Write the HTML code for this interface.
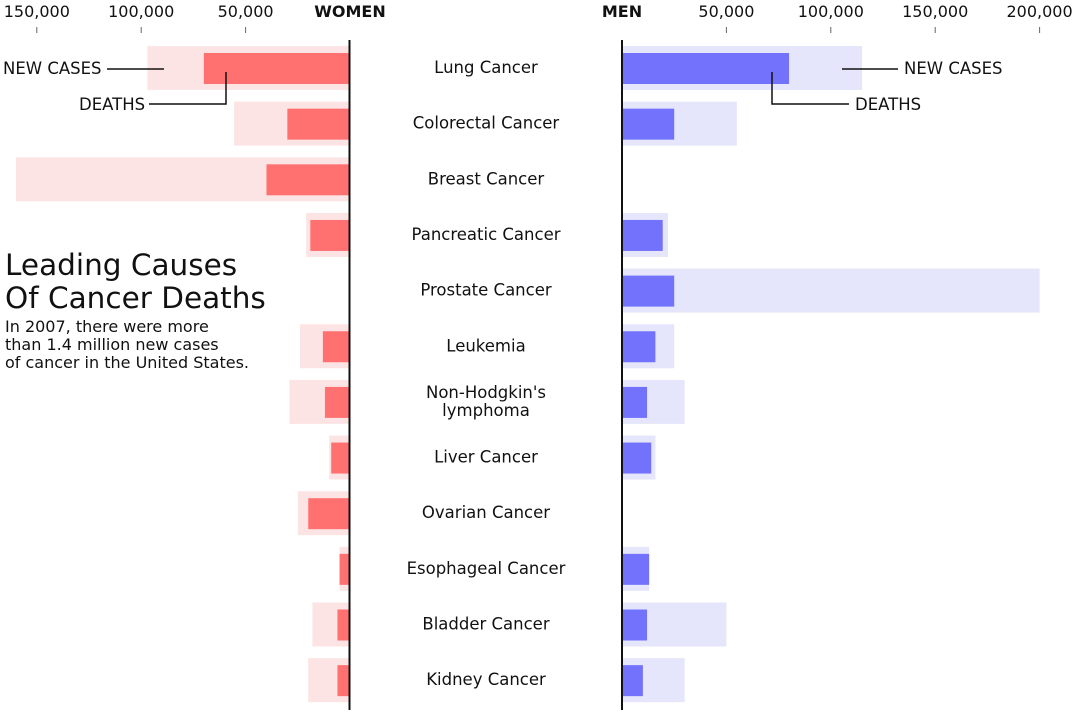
<!DOCTYPE html>
<html><head><meta charset="utf-8"><style>
body{margin:0;background:#fff;font-family:"DejaVu Sans","Liberation Sans",sans-serif;}
svg text{font-family:"DejaVu Sans","Liberation Sans",sans-serif;fill:#111;}
</style></head><body>
<svg id="c" width="1080" height="715">
</svg>
<script>
const categories=["Lung Cancer","Colorectal Cancer","Breast Cancer","Pancreatic Cancer","Prostate Cancer","Leukemia","Non-Hodgkin's|lymphoma","Liver Cancer","Ovarian Cancer","Esophageal Cancer","Bladder Cancer","Kidney Cancer"];
const womenNew=[97000,55500,160000,21000,0,24000,29000,10000,25000,5000,18000,20000];
const womenDeaths=[70000,30000,40000,19000,0,13000,12000,9000,20000,5000,6000,6000];
const menNew=[115000,55000,0,22000,200000,25000,30000,16000,0,13000,50000,30000];
const menDeaths=[80000,25000,0,19500,25000,16000,12000,14000,0,13000,12000,10000];
const womenTicks=[50000,100000,150000];
const menTicks=[50000,100000,150000,200000];
const NS="http://www.w3.org/2000/svg";
const svg=document.getElementById('c');
const K=2.088/1000;
const wx=v=>350-v*K, mx=v=>622+v*K;
const rowY=i=>68+i*55.65;
function el(t,a,txt){const e=document.createElementNS(NS,t);for(const k in a)e.setAttribute(k,a[k]);if(txt!==undefined)e.textContent=txt;svg.appendChild(e);return e;}
const fmt=v=>v.toLocaleString('en-US');
womenTicks.forEach(v=>{
 const t=el('text',{x:wx(v),y:17,'text-anchor':'middle','font-size':16},fmt(v));
 
 
 const l=el('line',{x1:wx(v),x2:wx(v),y1:27,y2:33,stroke:'#666'});
 
 
});
menTicks.forEach(v=>{
 const t=el('text',{x:mx(v),y:17,'text-anchor':'middle','font-size':16},fmt(v));
 
 
 const l=el('line',{x1:mx(v),x2:mx(v),y1:27,y2:33,stroke:'#666'});
 
 
});
let h=el('text',{x:350,y:17,'text-anchor':'middle','font-size':16,'font-weight':'bold'},'WOMEN');

h=el('text',{x:622,y:17,'text-anchor':'middle','font-size':16,'font-weight':'bold'},'MEN');

categories.forEach((c,i)=>{
 const y=rowY(i);
 if(womenNew[i]>0){const r=el('rect',{x:wx(womenNew[i]),y:y-22,width:350-wx(womenNew[i]),height:44,fill:'#fde4e4'});
  }
 if(womenDeaths[i]>0){const r=el('rect',{x:wx(womenDeaths[i]),y:y-15,width:350-wx(womenDeaths[i]),height:31,fill:'#ff7171'});
  }
 if(menNew[i]>0){const r=el('rect',{x:622,y:y-22,width:mx(menNew[i])-622,height:44,fill:'#e5e5fb'});
  }
 if(menDeaths[i]>0){const r=el('rect',{x:622,y:y-15,width:mx(menDeaths[i])-622,height:31,fill:'#7272fc'});
  }
 const parts=c.split('|');
 parts.forEach((p,j)=>{
  const t=el('text',{x:486,y:y+5+(parts.length>1?(j-0.5)*18:0),'text-anchor':'middle','font-size':16.5},p);
  
 });
});
let a=el('line',{x1:349.5,x2:349.5,y1:40,y2:710,stroke:'#111','stroke-width':2});

a=el('line',{x1:622,x2:622,y1:40,y2:710,stroke:'#111','stroke-width':2});

const ann=[['NEW CASES',3,74],['DEATHS',79,110],['NEW CASES',904,74],['DEATHS',855,110]];
ann.forEach(([s,x,y])=>{const t=el('text',{x:x,y:y,'font-size':16.5},s);
 });
const p1=el('path',{d:'M107 69 H164 M149 104 H226 V72 M842 69 H898 M772 72 V104 H849',stroke:'#111','stroke-width':1.5,fill:'none'});

let t=el('text',{x:5,y:275,'font-size':29.5},'Leading Causes');

t=el('text',{x:5,y:308,'font-size':29.5},'Of Cancer Deaths');

['In 2007, there were more','than 1.4 million new cases','of cancer in the United States.'].forEach((s,j)=>{
 const tt=el('text',{x:5,y:332+j*18,'font-size':16},s);
 
});
</script>
</body></html>
